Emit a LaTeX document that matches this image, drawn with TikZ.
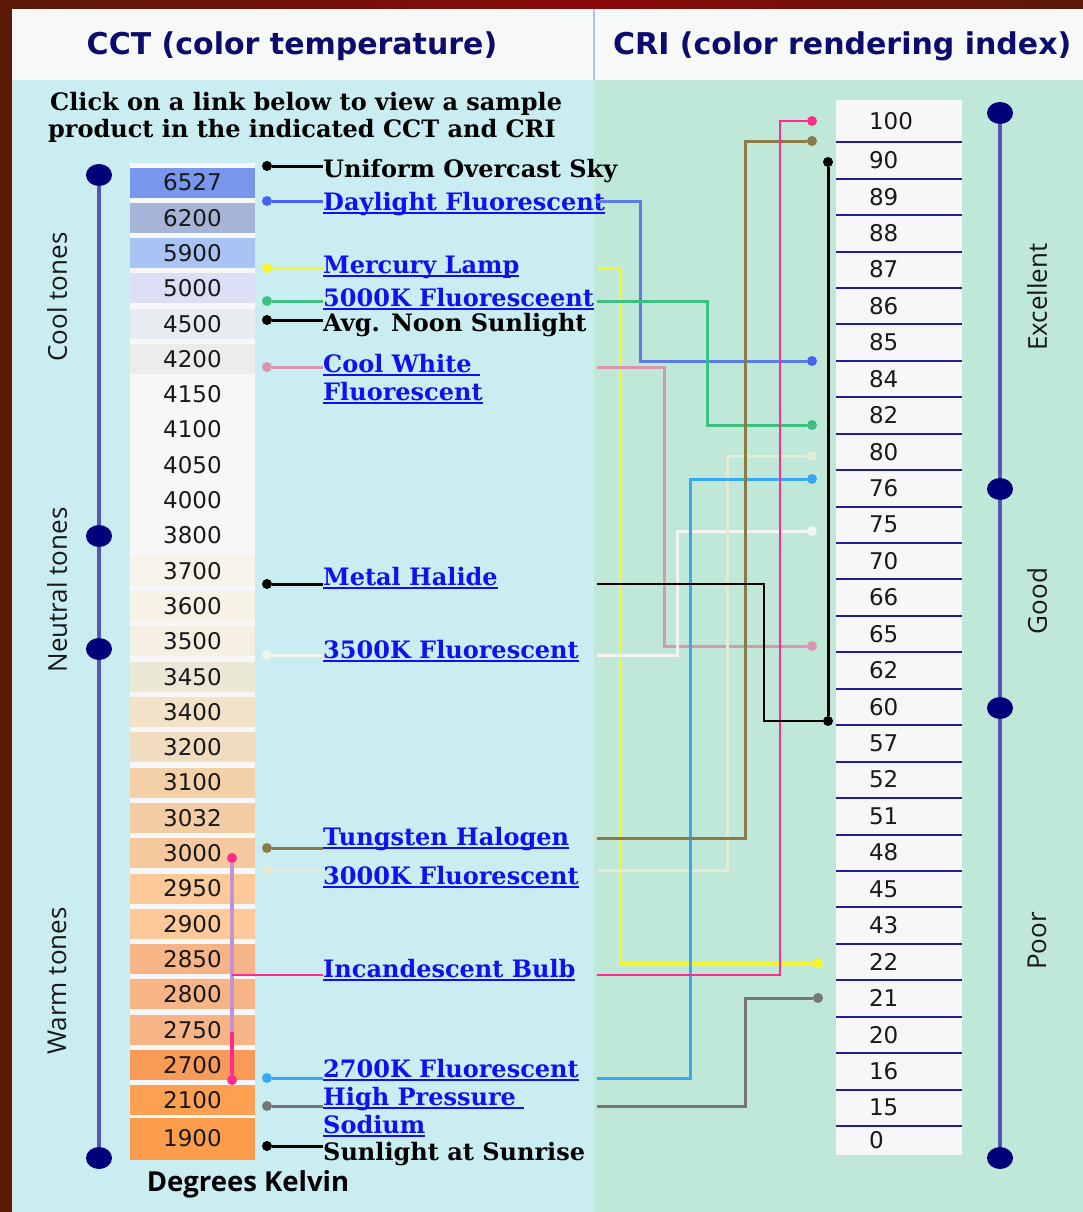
\documentclass[tikz,border=0pt]{standalone}
\usepackage{fontspec}
\setmainfont{DejaVu Serif}
\newfontfamily\numfont{DejaVu Sans}
\newfontfamily\tonefont{Open Sans}
\usepackage{tikz}
\usetikzlibrary{shapes.geometric}
\newcommand{\ulink}[1]{\setbox0=\hbox{#1}\rlap{\rule[-4pt]{\wd0}{2pt}}\box0}

\definecolor{frame}{HTML}{5A1A06}
\definecolor{framered}{HTML}{8A0A0A}
\definecolor{headbg}{HTML}{F7F8F8}
\definecolor{headline}{HTML}{A9C6EE}
\definecolor{headtxt}{HTML}{0C0C6C}
\definecolor{leftbg}{HTML}{CAEDF2}
\definecolor{rightbg}{HTML}{BFE8D9}
\definecolor{cellw}{HTML}{F7F7F7}
\definecolor{scaleln}{HTML}{5656B8}
\definecolor{scaledot}{HTML}{00007A}
\definecolor{rulenavy}{HTML}{1E1E9A}
\definecolor{linkblue}{HTML}{1010F0}
\definecolor{dayblue}{HTML}{5A7CEC}
\definecolor{hgyellow}{HTML}{F6F62A}
\definecolor{fivegreen}{HTML}{3EBF82}
\definecolor{coolpink}{HTML}{D896B0}
\definecolor{halwhite}{HTML}{F2F4F2}
\definecolor{wolive}{HTML}{8A7A46}
\definecolor{threecream}{HTML}{E4EAD4}
\definecolor{incmag}{HTML}{FF2C8C}
\definecolor{incviolet}{HTML}{C493CF}
\definecolor{twoblue}{HTML}{38A8F0}
\definecolor{hpsgray}{HTML}{767676}
\definecolor{cc6527}{HTML}{7896EB}
\definecolor{cc6200}{HTML}{A5B4D7}
\definecolor{cc5900}{HTML}{AAC3F5}
\definecolor{cc5000}{HTML}{DCDEF5}
\definecolor{cc4500}{HTML}{E8ECF0}
\definecolor{cc4200}{HTML}{ECECEC}
\definecolor{cc3700}{HTML}{F6F3EA}
\definecolor{cc3600}{HTML}{F6F2E6}
\definecolor{cc3500}{HTML}{F5F0E2}
\definecolor{cc3450}{HTML}{ECE8D6}
\definecolor{cc3400}{HTML}{F1E2C8}
\definecolor{cc3200}{HTML}{F0DCC0}
\definecolor{cc3100}{HTML}{F4D0A8}
\definecolor{cc3032}{HTML}{F4CCA4}
\definecolor{cc3000}{HTML}{F6C89E}
\definecolor{cc2950}{HTML}{FDC89A}
\definecolor{cc2850}{HTML}{F7B486}
\definecolor{cc2700}{HTML}{F89A58}
\definecolor{cc2100}{HTML}{FDA052}
\definecolor{cc1900}{HTML}{FD9C4A}

\begin{document}
\begin{tikzpicture}[
  x=1pt,y=-1pt,
  cct/.style={rectangle,fill=#1,minimum width=125pt,minimum height=30pt,inner sep=0pt,font=\numfont\fontsize{23}{23}\selectfont,text=black!90},
  cri/.style={rectangle,fill=cellw,minimum width=126pt,minimum height=36.4pt,inner sep=0pt,text width=60pt,align=left,font=\numfont\fontsize{23}{23}\selectfont,text=black!90},
  sep/.style={draw=rulenavy,line width=2pt},
  band/.style={draw=scaleln,line width=4pt},
  knob/.style={ellipse,fill=scaledot,minimum width=26pt,minimum height=22pt,inner sep=0pt},
  blob/.style={circle,fill=#1,minimum size=10pt,inner sep=0pt},
  wire/.style={draw=#1,line width=3pt},
  tone/.style={rotate=90,font=\tonefont\fontsize{26}{26}\selectfont,text=black!90},
  head/.style={font=\numfont\bfseries\fontsize{30}{30}\selectfont,text=headtxt},
  lnk/.style={anchor=base west,inner sep=0pt,text=linkblue,font=\fontsize{24}{24}\selectfont\bfseries},
  txt/.style={anchor=base west,inner sep=0pt,text=black,font=\fontsize{24}{24}\selectfont\bfseries}
]
\useasboundingbox (0,0) rectangle (1083,1212);
\fill[frame] (0,0) rectangle (1083,1212);
\shade[left color=frame,right color=framered] (0,0) rectangle (600,9);
\shade[left color=framered,right color=frame] (600,0) rectangle (1083,9);
\fill[headbg] (12,9) rectangle (1083,80);
\draw[headline,line width=2pt] (594,9) -- (594,80);
\fill[leftbg] (12,80) rectangle (594,1212);
\fill[rightbg] (594,80) rectangle (1083,1212);

\node[head] (tCCT) at (292,46) {CCT (color temperature)};
\node[head,anchor=west,inner sep=0pt] (tCRI) at (613,46) {CRI (color rendering index)};

\node[txt] (hint1) at (50,111) {Click on a link below to view a sample};
\node[txt] (hint2) at (48,138) {product in the indicated CCT and CRI};

\node[knob] (sL1) at (99,175) {};
\node[knob] (sL2) at (99,536) {};
\node[knob] (sL3) at (99,649) {};
\node[knob] (sL4) at (99,1158) {};
\draw[band] (sL1) -- (sL2) -- (sL3) -- (sL4);
\node[tone] (cool) at (57,297) {Cool tones};
\node[tone] (neutral) at (57,590) {Neutral tones};
\node[tone] (warm) at (57,981) {Warm tones};

\fill[cellw] (130,163) rectangle (255,1160);
\node[cct=cc6527] (k0) at (192.5,182.5) {6527};
\node[cct=cc6200] (k1) at (192.5,217.8) {6200};
\node[cct=cc5900] (k2) at (192.5,253.1) {5900};
\node[cct=cc5000] (k3) at (192.5,288.4) {5000};
\node[cct=cc4500] (k4) at (192.5,323.7) {4500};
\node[cct=cc4200] (k5) at (192.5,359.0) {4200};
\node[cct=cellw] (k6) at (192.5,394.3) {4150};
\node[cct=cellw] (k7) at (192.5,429.6) {4100};
\node[cct=cellw] (k8) at (192.5,464.9) {4050};
\node[cct=cellw] (k9) at (192.5,500.2) {4000};
\node[cct=cellw] (k10) at (192.5,535.5) {3800};
\node[cct=cc3700] (k11) at (192.5,570.8) {3700};
\node[cct=cc3600] (k12) at (192.5,606.1) {3600};
\node[cct=cc3500] (k13) at (192.5,641.4) {3500};
\node[cct=cc3450] (k14) at (192.5,676.7) {3450};
\node[cct=cc3400] (k15) at (192.5,712.0) {3400};
\node[cct=cc3200] (k16) at (192.5,747.3) {3200};
\node[cct=cc3100] (k17) at (192.5,782.6) {3100};
\node[cct=cc3032] (k18) at (192.5,817.9) {3032};
\node[cct=cc3000] (k19) at (192.5,853.2) {3000};
\node[cct=cc2950] (k20) at (192.5,888.5) {2950};
\node[cct=cc2950] (k21) at (192.5,923.8) {2900};
\node[cct=cc2850] (k22) at (192.5,959.1) {2850};
\node[cct=cc2850] (k23) at (192.5,994.4) {2800};
\node[cct=cc2850] (k24) at (192.5,1029.7) {2750};
\node[cct=cc2700] (k25) at (192.5,1065.0) {2700};
\node[cct=cc2100] (k26) at (192.5,1100.3) {2100};
\node[cct=cc1900,minimum height=42pt] (k27) at (192.5,1138.5) {1900};
\node[font=\tonefont\bfseries\fontsize{27.5}{27.5}\selectfont] (unit) at (248,1184) {Degrees Kelvin};

\node[cri,minimum height=42pt] (r0) at (899,121) {100};
\node[cri] (r1) at (899,160.2) {90};
\node[cri] (r2) at (899,196.7) {89};
\node[cri] (r3) at (899,233.1) {88};
\node[cri] (r4) at (899,269.5) {87};
\node[cri] (r5) at (899,306.0) {86};
\node[cri] (r6) at (899,342.4) {85};
\node[cri] (r7) at (899,378.8) {84};
\node[cri] (r8) at (899,415.3) {82};
\node[cri] (r9) at (899,451.7) {80};
\node[cri] (r10) at (899,488.2) {76};
\node[cri] (r11) at (899,524.6) {75};
\node[cri] (r12) at (899,561.0) {70};
\node[cri] (r13) at (899,597.5) {66};
\node[cri] (r14) at (899,633.9) {65};
\node[cri] (r15) at (899,670.3) {62};
\node[cri] (r16) at (899,706.8) {60};
\node[cri] (r17) at (899,743.2) {57};
\node[cri] (r18) at (899,779.6) {52};
\node[cri] (r19) at (899,816.1) {51};
\node[cri] (r20) at (899,852.5) {48};
\node[cri] (r21) at (899,889.0) {45};
\node[cri] (r22) at (899,925.4) {43};
\node[cri] (r23) at (899,961.8) {22};
\node[cri] (r24) at (899,998.3) {21};
\node[cri] (r25) at (899,1034.7) {20};
\node[cri] (r26) at (899,1071.1) {16};
\node[cri] (r27) at (899,1107.6) {15};
\node[cri,minimum height=29.2pt] (r28) at (899,1140.4) {0};
\foreach \i in {0,...,27}
  \draw[sep] (r\i.south west) -- (r\i.south east);

\node[knob] (sR1) at (1000,113) {};
\node[knob] (sR2) at (1000,489) {};
\node[knob] (sR3) at (1000,708) {};
\node[knob] (sR4) at (1000,1158) {};
\draw[band] (sR1) -- (sR2) -- (sR3) -- (sR4);
\node[tone] (excellent) at (1037,297) {Excellent};
\node[tone] (good) at (1037,601) {Good};
\node[tone] (poor) at (1037,941) {Poor};

\node[blob=black] (pSky) at (267,166) {};
\node[blob=dayblue!80!blue] (pDay) at (267,201) {};
\node[blob=hgyellow] (pHg) at (267,268) {};
\node[blob=fivegreen] (p5000) at (267,301) {};
\node[blob=black] (pNoon) at (267,320) {};
\node[blob=coolpink] (pCool) at (267,367) {};
\node[blob=black] (pMH) at (267,584) {};
\node[blob=halwhite] (p3500) at (267,655) {};
\node[blob=wolive] (pW) at (267,848) {};
\node[blob=threecream] (p3000) at (267,870) {};
\node[blob=twoblue] (p2700) at (267,1078) {};
\node[blob=hpsgray] (pHPS) at (267,1106) {};
\node[blob=black] (pSun) at (267,1146) {};

\node[txt] (lSky) at (323,177) {Uniform Overcast Sky};
\node[lnk] (lDay) at (323,210) {\ulink{Daylight Fluorescent}};
\node[lnk] (lHg) at (323,273) {\ulink{Mercury Lamp}};
\node[lnk] (l5000) at (323,306) {\ulink{5000K Fluoresceent}};
\node[txt] (lNoon) at (323,331) {Avg. Noon Sunlight};
\node[lnk] (lCool) at (323,372) {\ulink{Cool White\ }};
\node[lnk] (lCool2) at (323,400) {\ulink{Fluorescent}};
\node[lnk] (lMH) at (323,585) {\ulink{Metal Halide}};
\node[lnk] (l3500) at (323,658) {\ulink{3500K Fluorescent}};
\node[lnk] (lW) at (323,845) {\ulink{Tungsten Halogen}};
\node[lnk] (l3000) at (323,884) {\ulink{3000K Fluorescent}};
\node[lnk] (lInc) at (323,977) {\ulink{Incandescent Bulb}};
\node[lnk] (l2700) at (323,1077) {\ulink{2700K Fluorescent}};
\node[lnk] (lHPS) at (323,1105) {\ulink{High Pressure\ }};
\node[lnk] (lHPS2) at (323,1133) {\ulink{Sodium}};
\node[txt] (lSun) at (323,1160) {Sunlight at Sunrise};

\draw[wire=black] (pSky) -- (pSky -| lSky.west);
\draw[wire=dayblue!80!blue] (pDay) -- (pDay -| lDay.west);
\draw[wire=hgyellow] (pHg) -- (pHg -| lHg.west);
\draw[wire=fivegreen] (p5000) -- (p5000 -| l5000.west);
\draw[wire=black] (pNoon) -- (pNoon -| lNoon.west);
\draw[wire=coolpink] (pCool) -- (pCool -| lCool.west);
\draw[wire=black] (pMH) -- (pMH -| lMH.west);
\draw[wire=halwhite] (p3500) -- (p3500 -| l3500.west);
\draw[wire=wolive] (pW) -- (pW -| lW.west);
\draw[wire=threecream] (p3000) -- (p3000 -| l3000.west);
\draw[wire=twoblue] (p2700) -- (p2700 -| l2700.west);
\draw[wire=hpsgray] (pHPS) -- (pHPS -| lHPS.west);
\draw[wire=black] (pSun) -- (pSun -| lSun.west);

\node[blob=incmag,minimum size=10pt] (bTop) at (232,858) {};
\node[blob=incmag,minimum size=10pt] (bBot) at (232,1080) {};
\coordinate (bMid) at (232,1032);
\coordinate (bInc) at (232,975);
\draw[wire=incviolet,line width=4pt] (bTop) -- (bBot);
\draw[wire=incmag,line width=4pt] (bMid) -- (bBot);
\draw[incmag,line width=1.8pt] (bInc) -- (bInc -| lInc.west);

\node[blob=incmag] (kInc) at (812,121) {};
\node[blob=wolive] (kW) at (812,141) {};
\node[blob=black] (kTop) at (828,162) {};
\node[blob=dayblue!80!blue] (kDay) at (812,361) {};
\node[blob=fivegreen] (k5000) at (812,425) {};
\node[blob=threecream] (k3000) at (812,456) {};
\node[blob=twoblue] (k2700) at (812,479) {};
\node[blob=halwhite] (k3500) at (812,531) {};
\node[blob=coolpink] (kCool) at (812,646) {};
\node[blob=black] (kMH) at (828,721) {};
\node[blob=hgyellow] (kHg) at (818,963) {};
\node[blob=hpsgray] (kHPS) at (818,998) {};

\coordinate (eR) at (597,0);
\draw[wire=dayblue] (pDay -| eR) -- ++(43,0) |- (kDay);
\draw[wire=hgyellow] (pHg -| eR) -- ++(23,0) |- (kHg);
\draw[wire=fivegreen] (p5000 -| eR) -- ++(110,0) |- (k5000);
\draw[wire=coolpink] (pCool -| eR) -- ++(67,0) |- (kCool);
\draw[wire=halwhite] (p3500 -| eR) -- ++(80,0) |- (k3500);
\draw[wire=threecream] (p3000 -| eR) -- ++(130,0) |- (k3000);
\draw[wire=twoblue] (p2700 -| eR) -- ++(93,0) |- (k2700);
\draw[wire=wolive] (lW.west -| eR) -- ++(148,0) |- (kW);
\draw[wire=incmag,line width=2.2pt] (bInc -| eR) -- ++(183,0) |- (kInc);
\draw[wire=hpsgray] (pHPS -| eR) -- ++(148,0) |- (kHPS);
\draw[wire=black,line width=2.2pt] (pMH -| eR) -- ++(167,0) |- (kMH);
\draw[wire=black] (kTop) -- (kMH);
\end{tikzpicture}
\end{document}
